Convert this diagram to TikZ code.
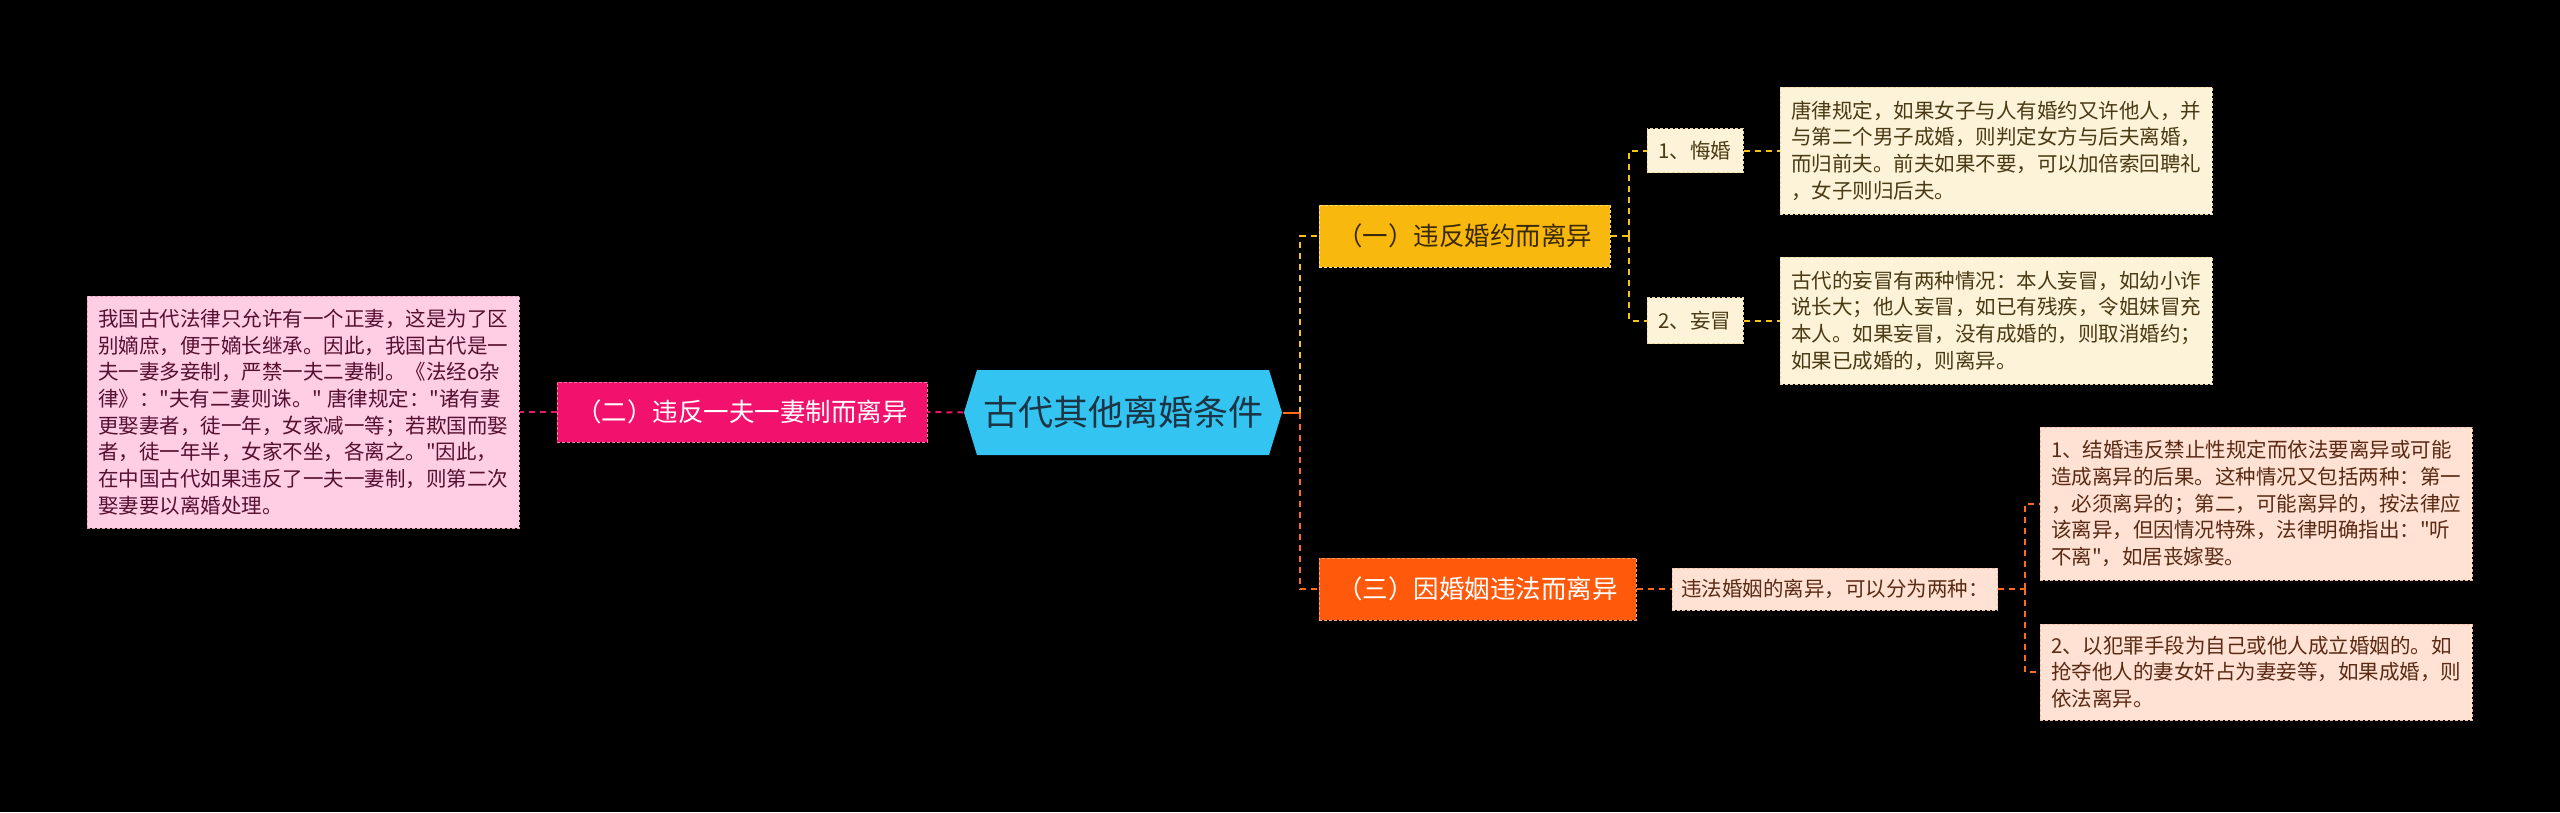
\documentclass[tikz,border=0pt]{standalone}
\usepackage{fontspec}
\setmainfont{Noto Sans CJK SC}[Ligatures=TeXOff]
\usetikzlibrary{shapes.symbols}

\definecolor{rootfill}{HTML}{33C4F2}
\definecolor{roottext}{HTML}{1C3544}
\definecolor{pinkfill}{HTML}{F2126D}
\definecolor{pinkedge}{HTML}{FF77AA}
\definecolor{pinkleaf}{HTML}{FFCDE4}
\definecolor{pinkleafedge}{HTML}{E8A0C0}
\definecolor{pinktext}{HTML}{561030}
\definecolor{goldfill}{HTML}{F9B80E}
\definecolor{goldedge}{HTML}{FFE27A}
\definecolor{goldtext}{HTML}{3A2A05}
\definecolor{creamleaf}{HTML}{FDF3D9}
\definecolor{creamedge}{HTML}{F0D9A0}
\definecolor{creamtext}{HTML}{4A3A14}
\definecolor{yellowline}{HTML}{F6C21C}
\definecolor{orangefill}{HTML}{FF5A0C}
\definecolor{orangeedge}{HTML}{FFA070}
\definecolor{peachleaf}{HTML}{FFE2D4}
\definecolor{peachedge}{HTML}{F5C0A8}
\definecolor{peachtext}{HTML}{5A2A14}
\definecolor{orangeline}{HTML}{FF6A1C}
\definecolor{pinkline}{HTML}{E8166C}

\tikzset{every picture/.style={line width=1pt}}
\tikzset{
  topic/.style={shape=signal, signal to=west and east, signal pointer angle=146,
    fill=rootfill, text=roottext, font=\fontsize{35}{40}\selectfont,
    minimum width=318pt, minimum height=85pt, inner sep=0pt},
  branch/.style={draw, dash pattern=on 3pt off 2pt, line width=1pt,
    font=\fontsize{25.5}{30}\selectfont, inner sep=0pt, minimum height=62pt},
  leaf/.style={draw, dash pattern=on 3pt off 2pt, line width=1pt,
    font=\fontsize{20.5}{26.7}\selectfont, align=left, inner xsep=9pt, inner ysep=0pt},
  textbox/.style={leaf, minimum width=432pt},
  link/.style={line width=2pt, dash pattern=on 6pt off 5pt},
}

\begin{document}
\begin{tikzpicture}[x=1pt,y=1pt,yscale=-1,xscale=1]
%set diagram left start at 0, and has height of 812
\path [fill=black] (0,0) rectangle (2560,812);

% Text Node
\node [topic] (root) at (1123,412.5) {古代其他离婚条件};
% Text Node
\node [branch, fill=goldfill, draw=goldedge, text=goldtext, minimum width=291pt] (c1) at (1464.5,236) {（一）违反婚约而离异};
% Text Node
\node [branch, fill=pinkfill, draw=pinkedge, text=white, minimum width=370pt, minimum height=60pt] (c2) at (742,412) {（二）违反一夫一妻制而离异};
% Text Node
\node [branch, fill=orangefill, draw=orangeedge, text=white, minimum width=317pt] (c3) at (1477.5,589) {（三）因婚姻违法而离异};

% Text Node
\node [leaf, fill=creamleaf, draw=creamedge, text=creamtext, minimum width=96pt, minimum height=44pt, align=center] (h1) at (1695,150.5) {1、悔婚};
% Text Node
\node [leaf, fill=creamleaf, draw=creamedge, text=creamtext, minimum width=96pt, minimum height=46pt, align=center] (h2) at (1695,320.5) {2、妄冒};
% Text Node
\node [textbox, fill=creamleaf, draw=creamedge, text=creamtext, minimum height=127pt] (t1) at (1996,150.5) {唐律规定，如果女子与人有婚约又许他人，并\\与第二个男子成婚，则判定女方与后夫离婚，\\而归前夫。前夫如果不要，可以加倍索回聘礼\\，女子则归后夫。};
% Text Node
\node [textbox, fill=creamleaf, draw=creamedge, text=creamtext, minimum height=127pt] (t2) at (1996,320.5) {古代的妄冒有两种情况：本人妄冒，如幼小诈\\说长大；他人妄冒，如已有残疾，令姐妹冒充\\本人。如果妄冒，没有成婚的，则取消婚约；\\如果已成婚的，则离异。};
% Text Node
\node [textbox, fill=pinkleaf, draw=pinkleafedge, text=pinktext, minimum height=232pt] (t3) at (303,412) {我国古代法律只允许有一个正妻，这是为了区\\别嫡庶，便于嫡长继承。因此，我国古代是一\\夫一妻多妾制，严禁一夫二妻制。《法经o杂\\律》："夫有二妻则诛。" 唐律规定："诸有妻\\更娶妻者，徒一年，女家减一等；若欺国而娶\\者，徒一年半，女家不坐，各离之。"因此，\\在中国古代如果违反了一夫一妻制，则第二次\\娶妻要以离婚处理。};
% Text Node
\node [leaf, fill=peachleaf, draw=peachedge, text=peachtext, minimum width=324pt, minimum height=42pt, align=center] (s3) at (1835,589) {违法婚姻的离异，可以分为两种：};
% Text Node
\node [textbox, fill=peachleaf, draw=peachedge, text=peachtext, minimum height=153pt] (b1) at (2256,503.5) {1、结婚违反禁止性规定而依法要离异或可能\\造成离异的后果。这种情况又包括两种：第一\\，必须离异的；第二，可能离异的，按法律应\\该离异，但因情况特殊，法律明确指出："听\\不离"，如居丧嫁娶。};
% Text Node
\node [textbox, fill=peachleaf, draw=peachedge, text=peachtext, minimum height=96pt] (b2) at (2256,672) {2、以犯罪手段为自己或他人成立婚姻的。如\\抢夺他人的妻女奸占为妻妾等，如果成婚，则\\依法离异。};

%Straight Lines
\coordinate (jr) at (1300,412.5);
\draw [line width=2pt, orangeline] (root.east) -- (jr);
\draw [link, yellowline] (jr) |- (c1.west);
\draw [link, orangeline] (jr) |- (c3.west);
%Straight Lines
\draw [link, pinkline] (root.west) -- (c2.east);
\draw [link, pinkline] (c2.west) -- (t3.east);
%Straight Lines
\coordinate (j1) at (1629,236);
\draw [link, yellowline] (c1.east) -- (j1);
\draw [link, yellowline] (j1) |- (h1.west);
\draw [link, yellowline] (j1) |- (h2.west);
\draw [link, yellowline] (h1.east) -- (t1.west);
\draw [link, yellowline] (h2.east) -- (t2.west);
%Straight Lines
\coordinate (j3) at (2025,589);
\draw [link, orangeline] (c3.east) -- (s3.west);
\draw [link, orangeline] (s3.east) -- (j3);
\draw [link, orangeline] (j3) |- (b1.west);
\draw [link, orangeline] (j3) |- (b2.west);

\end{tikzpicture}
\end{document}
